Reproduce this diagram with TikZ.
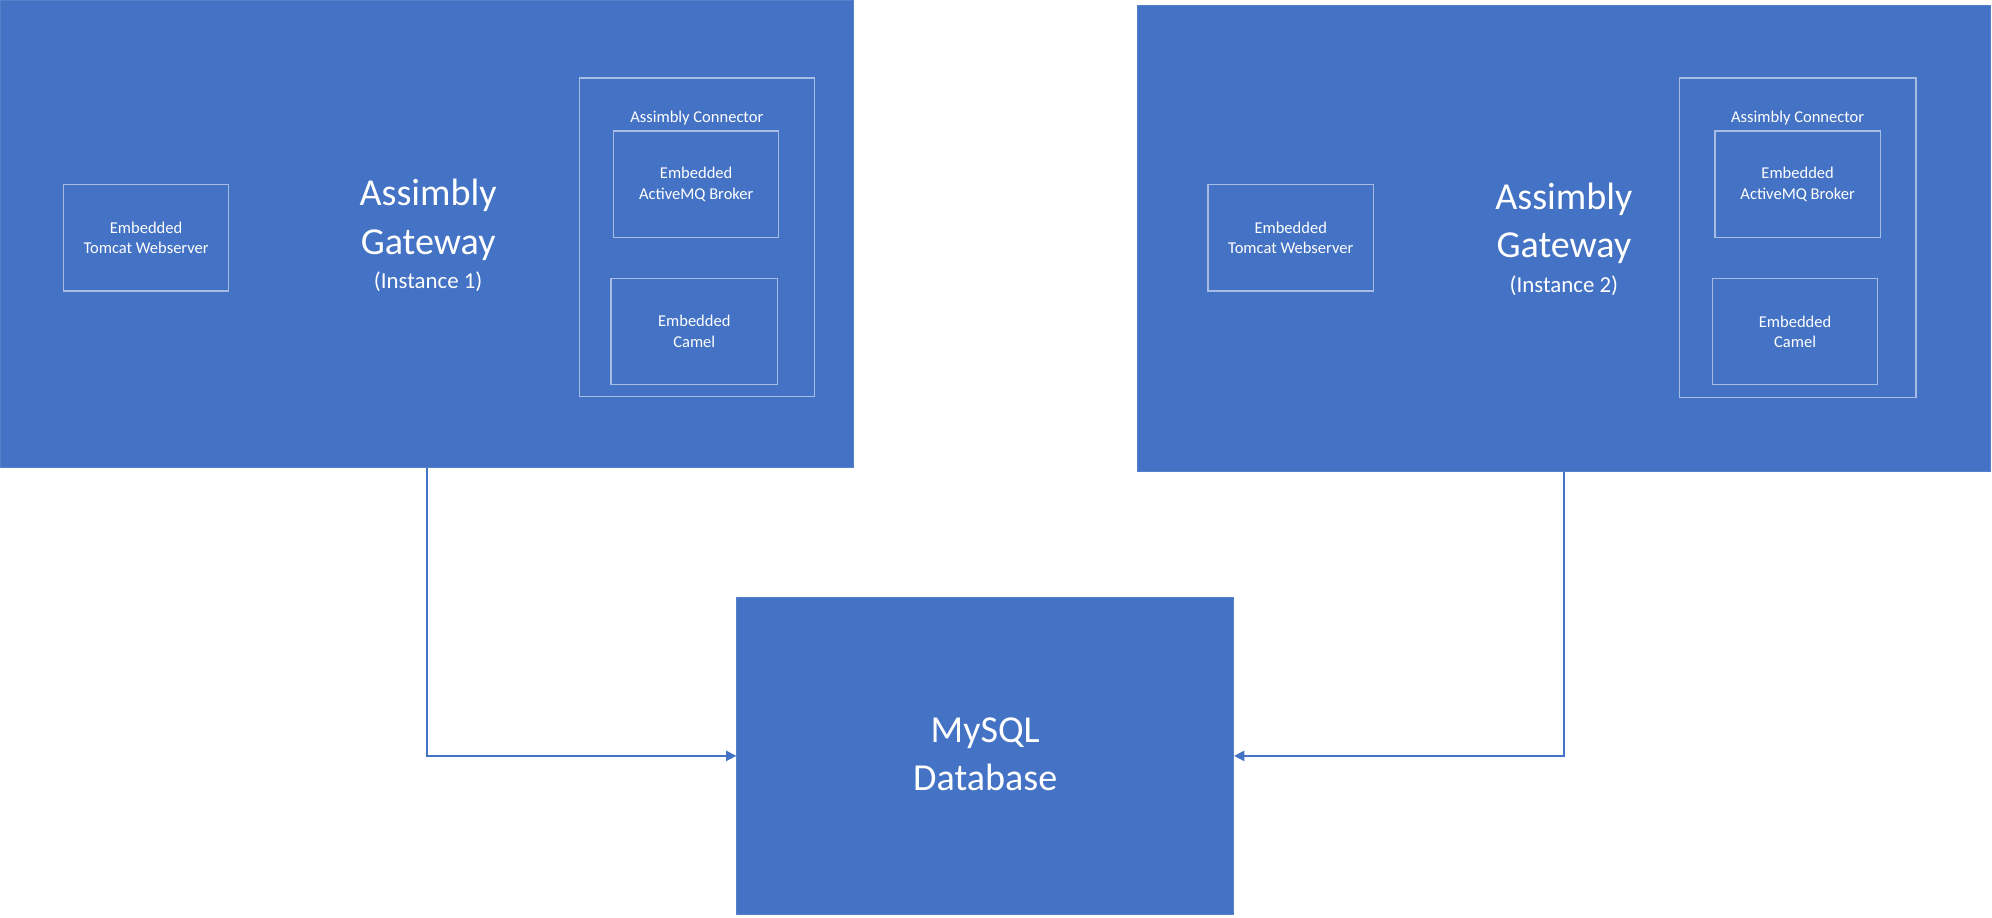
\documentclass[tikz,border=0pt]{standalone}
\usepackage{fontspec}
\setmainfont{Carlito}
\usetikzlibrary{arrows.meta,positioning}
\definecolor{gwblue}{HTML}{4472C4}
\definecolor{gwline}{HTML}{A6BCE4}

\begin{document}
\begin{tikzpicture}[
    x=1pt, y=-1pt,
    gateway/.style={rectangle, fill=gwblue, draw=gwblue!90!white, line width=0.8pt, inner sep=0pt},
    part/.style={rectangle, draw=gwline, line width=1.1pt, inner sep=0pt, align=center, text=white, font=\fontsize{13}{16}\selectfont},
    group/.style={rectangle, draw=gwline, line width=1.1pt, inner sep=0pt},
    title/.style={align=center, text=white, font=\fontsize{30}{38}\selectfont, inner sep=0pt},
    small/.style={text=white, font=\fontsize{18}{22}\selectfont, inner sep=0pt},
    caption/.style={text=white, font=\fontsize{13}{16}\selectfont, inner sep=0pt},
    link/.style={draw=gwblue, line width=1.2pt, -{Triangle[length=8pt,width=8pt]}}
]
\useasboundingbox (0,0) rectangle (1568,722);

% Gateway instance 1
\node[gateway, minimum width=672pt, minimum height=367.5pt] (gwA) at (336,184.5) {};
\node[part, minimum width=130pt, minimum height=84pt] (tomcatA) at (115,187) {Embedded\\Tomcat Webserver};
\node[group, minimum width=185pt, minimum height=250.5pt] (connA) at (548.5,186.75) {};
\node[caption] (connAlabel) at (548.5,93) {Assimbly Connector};
\node[part, minimum width=130pt, minimum height=84pt] (mqA) at (548,145) {Embedded\\ActiveMQ Broker};
\node[part, minimum width=131pt, minimum height=83.5pt] (camelA) at (546.5,260.75) {Embedded\\Camel};
\node[title] (titleA) at (337,173) {Assimbly\\Gateway};
\node[small] (instA) at (337,222) {(Instance 1)};

% Gateway instance 2
\node[gateway, minimum width=672pt, minimum height=367pt] (gwB) at (1231,187.5) {};
\node[part, minimum width=130pt, minimum height=84pt] (tomcatB) at (1016,187) {Embedded\\Tomcat Webserver};
\node[group, minimum width=186pt, minimum height=251.5pt] (connB) at (1415,187) {};
\node[caption] (connBlabel) at (1415,93) {Assimbly Connector};
\node[part, minimum width=130pt, minimum height=84pt] (mqB) at (1415,145) {Embedded\\ActiveMQ Broker};
\node[part, minimum width=130pt, minimum height=83.5pt] (camelB) at (1413,261) {Embedded\\Camel};
\node[title] (titleB) at (1231,176) {Assimbly\\Gateway};
\node[small] (instB) at (1231,225) {(Instance 2)};

% Database
\node[gateway, minimum width=391pt, minimum height=250pt] (db) at (775.5,595) {};
\node[title] (dblabel) at (775.5,594) {MySQL\\Database};

% Connections
\draw[link] (gwA.south) |- (db.west);
\draw[link] (gwB.south) |- (db.east);

\end{tikzpicture}
\end{document}
